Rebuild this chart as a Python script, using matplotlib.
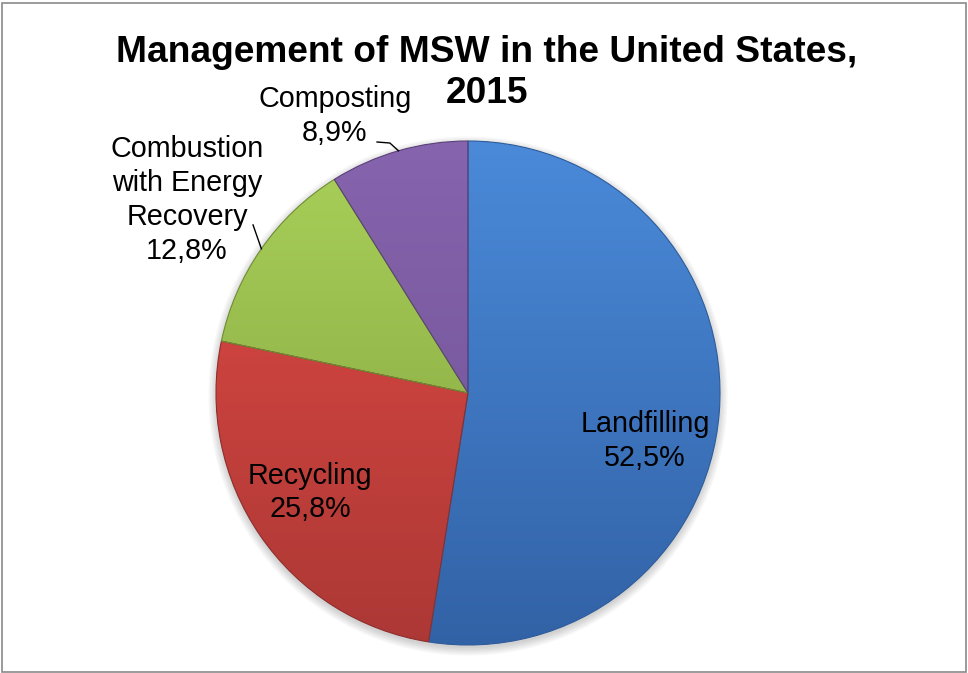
import numpy as np
import matplotlib.pyplot as plt
from matplotlib.colors import LinearSegmentedColormap
from matplotlib.patches import Rectangle, Circle

plt.rcParams['font.family'] = ['Liberation Sans', 'DejaVu Sans']

categories = ['Landfilling', 'Recycling', 'Combustion\nwith Energy\nRecovery', 'Composting']
shares = [52.5, 25.8, 12.8, 8.9]
top_colors = ['#4A8AD9', '#E24A45', '#AAD15A', '#8664AE']
bottom_colors = ['#3262A6', '#AC3835', '#7E9E3C', '#6E5092']
edge_colors = ['#2E5C9A', '#8E2E2C', '#6F8C34', '#5A4078']
title = 'Management of MSW in the United States,'
title_year = '2015'

# label centres and leader start points, in pie-radius units
label_pos = [(0.702, -0.19), (-0.627, -0.395), (-1.115, 0.766), (-0.528, 1.10)]
leader_start = {2: [(-0.853, 0.667)], 3: [(-0.361, 0.996), (-0.31, 0.992)]}

fig = plt.figure(figsize=(9.68, 6.73), dpi=100)
ax = fig.add_axes([0, 0, 1, 1])

# soft shadow under the pie
for i in range(6):
    ax.add_patch(Circle((0, -0.012), 1.0 + 0.006 * i, color='black', alpha=0.03, lw=0, zorder=0))

wedges, _ = ax.pie(shares, startangle=90, counterclock=False, radius=1)

grad = np.linspace(1, 0, 256).reshape(-1, 1)
for w, top, bot, ec in zip(wedges, top_colors, bottom_colors, edge_colors):
    cmap = LinearSegmentedColormap.from_list('', [bot, top])
    im = ax.imshow(grad, extent=(-1, 1, -1, 1), cmap=cmap, origin='upper',
                   aspect='auto', zorder=1, interpolation='bilinear')
    im.set_clip_path(w)
    w.set_facecolor('none')
    w.set_edgecolor(ec)
    w.set_linewidth(0.8)
    w.set_zorder(3)

for i, (cat, share, (x, y)) in enumerate(zip(categories, shares, label_pos)):
    txt = cat + '\n' + str(share).replace('.', ',') + '%'
    ax.text(x, y, txt, ha='center', va='center', fontsize=20.7, linespacing=1.26, zorder=5)
    if i in leader_start:
        w = wedges[i]
        mid = np.deg2rad((w.theta1 + w.theta2) / 2)
        pts = leader_start[i] + [(np.cos(mid), np.sin(mid))]
        ax.plot([p[0] for p in pts], [p[1] for p in pts], color='black', lw=1.0, zorder=5)

ax.set_xlim(-468 / 252, 500 / 252)
ax.set_ylim(-280 / 252, 393 / 252)
ax.set_aspect('auto')
ax.axis('off')

fig.text(487 / 968, 1 - 62 / 673, title, ha='center', va='baseline', fontsize=26.7, weight='bold')
fig.text(487 / 968, 1 - 103 / 673, title_year, ha='center', va='baseline', fontsize=26.7, weight='bold')

fig.patches.append(Rectangle((0.002, 0.002), 0.996, 0.993, transform=fig.transFigure,
                             fill=False, edgecolor='#8A8A8A', lw=1.2))

fig.savefig('out.png', dpi=100)
